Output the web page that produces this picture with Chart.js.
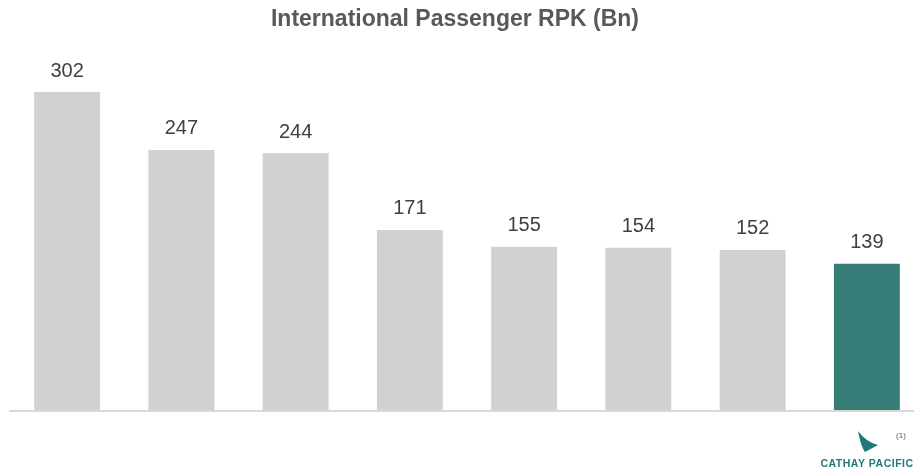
<!DOCTYPE html>
<html>
<head>
<meta charset="utf-8">
<script src="https://cdn.jsdelivr.net/npm/chart.js@4"></script>
<style>
  html, body { margin: 0; padding: 0; background: #ffffff; overflow: hidden; }
  #wrap { width: 924px; height: 472px; }
</style>
</head>
<body>
<div id="wrap"><canvas id="rpkChart" width="924" height="472"></canvas></div>
<script>
const carriers = ['A', 'B', 'C', 'D', 'E', 'F', 'G', 'Cathay Pacific'];
const rpkBillions = [302, 247, 244, 171, 155, 154, 152, 139];
const barColors = ['#d0d1d3', '#d0d1d3', '#d0d1d3', '#d0d1d3', '#d0d1d3', '#d0d1d3', '#d0d1d3', '#367c77'];
const chartTitle = 'International Passenger RPK (Bn)';

// heading, drawn by hand so it can sit off the plot centre
const heading = {
    id: 'heading',
    afterDraw(chart) {
        const ctx = chart.ctx;
        ctx.save();
        ctx.font = 'bold 23px "Liberation Sans", Arial, sans-serif';
        ctx.fillStyle = '#595959';
        ctx.textAlign = 'center';
        ctx.textBaseline = 'alphabetic';
        ctx.fillText(chartTitle, 455, 26);
        ctx.restore();
    }
};

// value above each bar
const valueLabels = {
    id: 'valueLabels',
    afterDatasetsDraw(chart) {
        const ctx = chart.ctx;
        const meta = chart.getDatasetMeta(0);
        ctx.save();
        ctx.font = '20px "Liberation Sans", Arial, sans-serif';
        ctx.fillStyle = '#404040';
        ctx.textAlign = 'center';
        ctx.textBaseline = 'middle';
        meta.data.forEach((bar, i) => {
            ctx.fillText(String(rpkBillions[i]), bar.x, bar.y - 21);
        });
        ctx.restore();
    }
};

// baseline under the bars
const baseLine = {
    id: 'baseLine',
    afterDatasetsDraw(chart) {
        const ctx = chart.ctx;
        const y = chart.scales.y.getPixelForValue(0);
        ctx.save();
        ctx.strokeStyle = '#d9d9d9';
        ctx.lineWidth = 2;
        ctx.beginPath();
        ctx.moveTo(9, y + 1);
        ctx.lineTo(chart.width, y + 1);
        ctx.stroke();
        ctx.restore();
    }
};

// brand mark and footnote in the lower right corner
const brandMark = {
    id: 'brandMark',
    afterDraw(chart) {
        const ctx = chart.ctx;
        ctx.save();
        ctx.fillStyle = '#1f7a76';
        ctx.beginPath();
        ctx.moveTo(858, 431);
        ctx.quadraticCurveTo(861, 447, 865, 452);
        ctx.lineTo(878, 445);
        ctx.quadraticCurveTo(866, 442, 858, 431);
        ctx.closePath();
        ctx.fill();
        ctx.font = 'bold 10.5px "Liberation Sans", Arial, sans-serif';
        ctx.letterSpacing = '0.5px';
        ctx.textAlign = 'center';
        ctx.textBaseline = 'alphabetic';
        ctx.fillStyle = '#1f7a76';
        ctx.fillText('CATHAY PACIFIC', 867, 467);
        ctx.letterSpacing = '0px';
        ctx.font = '8px "Liberation Sans", Arial, sans-serif';
        ctx.fillStyle = '#595959';
        ctx.textBaseline = 'middle';
        ctx.fillText('(1)', 901, 436);
        ctx.restore();
    }
};

new Chart(document.getElementById('rpkChart').getContext('2d'), {
    type: 'bar',
    data: {
        labels: carriers,
        datasets: [{
            data: rpkBillions,
            backgroundColor: barColors,
            borderWidth: 0,
            categoryPercentage: 1,
            barPercentage: 0.577
        }]
    },
    options: {
        responsive: false,
        animation: false,
        layout: { padding: { left: 10, right: 0, top: 41.5, bottom: 62 } },
        plugins: {
            legend: { display: false },
            tooltip: { enabled: false },
            title: { display: false }
        },
        scales: {
            x: { display: false },
            y: { display: false, min: 0, max: 350 }
        }
    },
    plugins: [valueLabels, baseLine, brandMark, heading]
});
</script>
</body>
</html>
